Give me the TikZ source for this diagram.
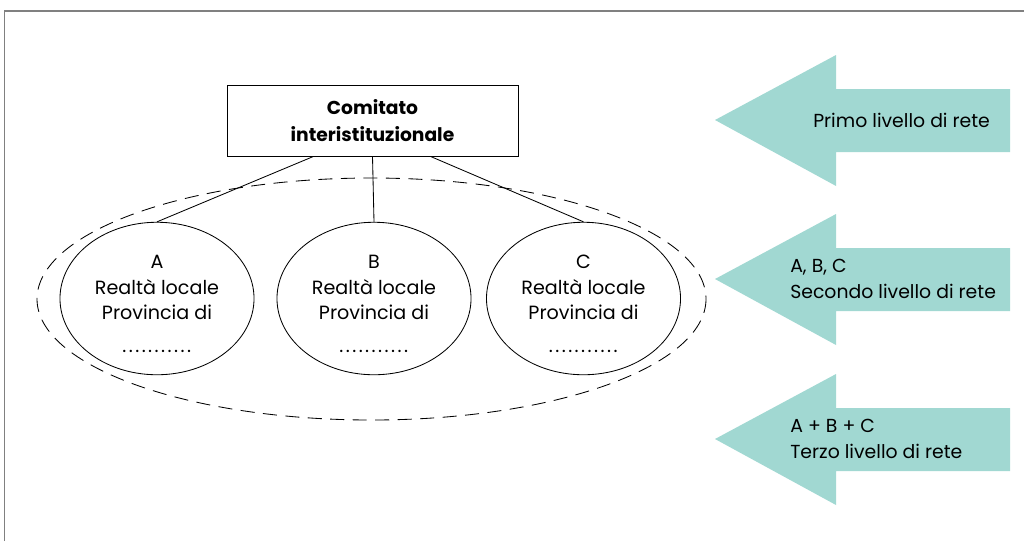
\documentclass[tikz,border=0pt]{standalone}
\usepackage{fontspec}
\setmainfont{Poppins}
\usetikzlibrary{shapes.geometric}
\definecolor{arrowcol}{RGB}{161,216,210}
\newcommand{\puntini}{\hbox to 51pt{\leaders\hbox to 4.6pt{\hss.\hss}\hfill}}
\tikzset{
  local/.style={draw, ellipse, line width=0.6pt, minimum width=4.85cm, minimum height=3.45cm, inner sep=0pt, align=center, font=\fontsize{13.6}{18.2}\selectfont},
  level/.style={anchor=west, align=left, inner sep=0pt, font=\fontsize{13.4}{19}\selectfont},
}
\begin{document}
\begin{tikzpicture}[x=0.025cm,y=-0.025cm]
	\useasboundingbox (0,0) rectangle (1024,541);
	\draw[gray, line width=1.2pt] (4.5,541) -- (4.5,11) -- (1024,11);
	% livelli di rete
	\foreach \y in {120,279,439}
		\fill[arrowcol] (715,\y) -- (836,\y-65) -- (836,\y-31) -- (1010,\y-31) -- (1010,\y+32) -- (836,\y+32) -- (836,\y+66) -- cycle;
	\node[level] (primo) at (813,120) {Primo livello di rete};
	\node[level] (secondo) at (790,279) {A, B, C\\Secondo livello di rete};
	\node[level] (terzo) at (790,439) {A + B + C\\Terzo livello di rete};
	% comitato e realta locali
	\node[draw, line width=0.6pt, minimum width=7.275cm, minimum height=1.775cm, align=center, font=\fontsize{13.3}{19.8}\selectfont\bfseries] (cit) at (372.5,120.5) {Comitato\\interistituzionale};
	\draw[dashed, line width=0.6pt, dash pattern=on 10pt off 6pt] (371.5,299) ellipse (334.5 and 121);
	\node[local] (A) at (157,298.5) {\rule{0pt}{17pt}A\\Realtà locale\\Provincia di\\[5pt]\puntini};
	\node[local] (B) at (374,298.5) {\rule{0pt}{17pt}B\\Realtà locale\\Provincia di\\[5pt]\puntini};
	\node[local] (C) at (583.5,298.5) {\rule{0pt}{17pt}C\\Realtà locale\\Provincia di\\[5pt]\puntini};
	\draw[line width=0.6pt] ([xshift=-1.475cm]cit.south) -- (A.north);
	\draw[line width=0.6pt] (cit.south) -- (B.north);
	\draw[line width=0.6pt] ([xshift=1.45cm]cit.south) -- (C.north);
\end{tikzpicture}
\end{document}
